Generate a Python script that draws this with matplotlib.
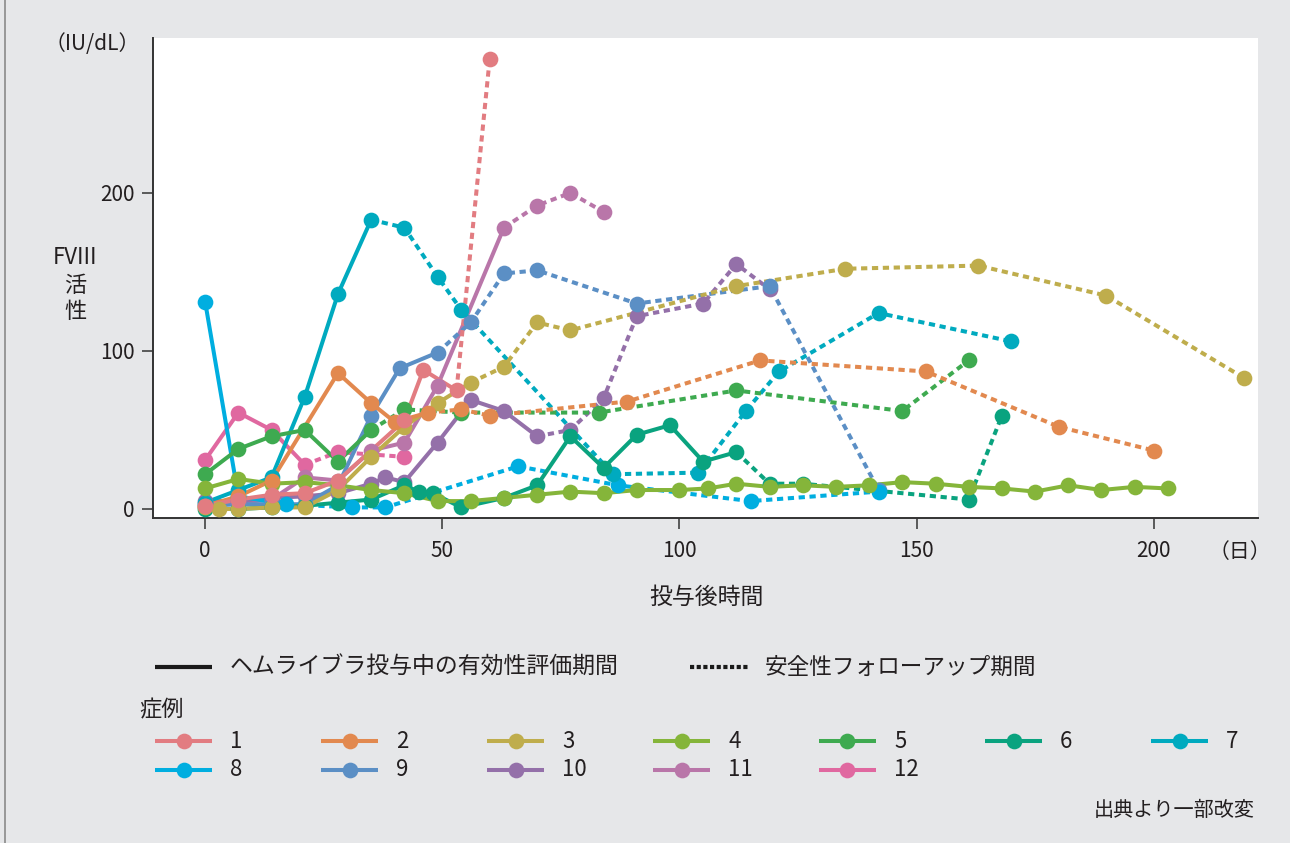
import matplotlib
matplotlib.use("Agg")
import matplotlib.pyplot as plt
from matplotlib.lines import Line2D

plt.rcParams["font.family"] = ["Noto Sans CJK JP", "DejaVu Sans"]

# FVIII activity (IU/dL) by day after first dose, per case.
# cN_end: last day of the efficacy period (solid); later points are follow-up (dashed).
c1_days = [0, 7, 14, 21, 28, 42, 46, 53, 60]
c1_vals = [2, 6, 9, 10, 18, 56, 88, 75, 285]
c1_end = 53

c2_days = [0, 7, 14, 28, 35, 40, 47, 54, 60, 89, 117, 152, 180, 200]
c2_vals = [2, 8, 18, 86, 67, 55, 61, 63, 59, 68, 94, 87, 52, 37]
c2_end = 47

c3_days = [0, 3, 7, 14, 21, 28, 35, 42, 49, 56, 63, 70, 77, 112, 135, 163, 190, 219]
c3_vals = [1, 0, 0, 1, 1, 12, 33, 52, 67, 80, 90, 118, 113, 141, 152, 154, 135, 83]
c3_end = 56

c4_days = [0, 7, 14, 21, 28, 35, 42, 49, 56, 63, 70, 77, 84, 91, 100, 106, 112, 119,
           126, 133, 140, 147, 154, 161, 168, 175, 182, 189, 196, 203]
c4_vals = [13, 19, 16, 17, 15, 12, 10, 5, 5, 7, 9, 11, 10, 12, 12, 13, 16, 14,
           15, 14, 15, 17, 16, 14, 13, 11, 15, 12, 14, 13]
c4_end = 203

c5_days = [0, 7, 14, 21, 28, 35, 42, 54, 83, 112, 147, 161]
c5_vals = [22, 38, 46, 50, 30, 50, 63, 61, 61, 75, 62, 94]
c5_end = 35

c6_days = [0, 7, 14, 21, 28, 35, 42, 45, 48, 54, 63, 70, 77, 84, 91, 98, 105, 112,
           119, 126, 161, 168]
c6_vals = [0, 0, 1, 2, 4, 6, 15, 11, 10, 1, 7, 15, 46, 26, 47, 53, 30, 36,
           16, 16, 6, 59]
c6_end = 112

c7_days = [0, 7, 14, 21, 28, 35, 42, 49, 54, 86, 104, 114, 121, 142, 170]
c7_vals = [4, 12, 20, 71, 136, 183, 178, 147, 126, 22, 23, 62, 87, 124, 106]
c7_end = 35

c8_days = [0, 7, 17, 31, 38, 66, 87, 115, 142]
c8_vals = [131, 8, 3, 1, 1, 27, 15, 5, 11]
c8_end = 17

c9_days = [0, 7, 14, 21, 28, 35, 41, 49, 56, 63, 70, 91, 119, 142]
c9_vals = [2, 3, 3, 3, 15, 59, 89, 99, 118, 149, 151, 130, 141, 12]
c9_end = 49

c10_days = [0, 7, 14, 21, 28, 35, 38, 42, 49, 56, 63, 70, 77, 84, 91, 105, 112, 119]
c10_vals = [5, 5, 7, 8, 10, 16, 20, 17, 42, 69, 62, 46, 50, 70, 122, 130, 155, 139]
c10_end = 70

c11_days = [0, 7, 14, 21, 28, 35, 42, 49, 63, 70, 77, 84]
c11_vals = [3, 4, 6, 20, 18, 37, 42, 78, 178, 192, 200, 188]
c11_end = 63

c12_days = [0, 7, 14, 21, 28, 42]
c12_vals = [31, 61, 50, 28, 36, 33]
c12_end = 21

case_labels = ["1", "2", "3", "4", "5", "6", "7", "8", "9", "10", "11", "12"]
case_colors = ["#e27c81", "#e2894f", "#bfad4c", "#85b53a", "#3eaa50", "#0aa37f",
               "#00aabf", "#00aee0", "#5b8fc5", "#9470a9", "#b976a9", "#e068a0"]

cases = [
    (c1_days, c1_vals, c1_end), (c2_days, c2_vals, c2_end), (c3_days, c3_vals, c3_end),
    (c4_days, c4_vals, c4_end), (c5_days, c5_vals, c5_end), (c6_days, c6_vals, c6_end),
    (c7_days, c7_vals, c7_end), (c8_days, c8_vals, c8_end), (c9_days, c9_vals, c9_end),
    (c10_days, c10_vals, c10_end), (c11_days, c11_vals, c11_end), (c12_days, c12_vals, c12_end),
]

x_ticks = [0, 50, 100, 150, 200]
y_ticks = [0, 100, 200]

BG = "#e6e7e9"
TXT = "#231f20"
W, H = 1290, 843
fig = plt.figure(figsize=(W / 100, H / 100), dpi=100, facecolor=BG)
ax = fig.add_axes([153 / W, 1 - 518 / H, (1258 - 153) / W, (518 - 38) / H])
ax.set_facecolor("white")

LW = 2.9
MS = 11.3
DASH = (1.55, 1.15)

order = list(range(11, -1, -1))
for z, i in enumerate(order):
    d, v, end = cases[i]
    col = case_colors[i]
    k = d.index(end)
    ax.plot(d[:k + 1], v[:k + 1], color=col, lw=LW, solid_capstyle="butt",
            zorder=2 + z * 0.01)
    if k < len(d) - 1:
        ax.plot(d[k:], v[k:], color=col, lw=LW, linestyle=(0, DASH),
                dash_capstyle="butt", zorder=2 + z * 0.01)
    ax.plot(d, v, linestyle="none", marker="o", ms=MS, color=col,
            markeredgewidth=0, zorder=3 + z * 0.01)

ax.set_xlim(-11, 222)
ax.set_ylim(-5.7, 298)
ax.set_xticks(x_ticks)
ax.set_yticks(y_ticks)
for s in ["top", "right"]:
    ax.spines[s].set_visible(False)
for s in ["left", "bottom"]:
    ax.spines[s].set_color("#333333")
    ax.spines[s].set_linewidth(1.4)
ax.tick_params(direction="out", length=8, width=1.1, color="#333333",
               labelsize=15, labelcolor=TXT)
ax.tick_params(axis="x", pad=8)
ax.tick_params(axis="y", pad=5)


def fx(px):
    return px / W


def fy(py):
    return 1 - py / H


fig.text(fx(1240), fy(552), "（日）", ha="center", va="center", fontsize=15, color=TXT)
fig.text(fx(706), fy(597), "投与後時間", ha="center", va="center", fontsize=16.5, color=TXT)
fig.text(fx(92), fy(44), "（IU/dL）", ha="center", va="center", fontsize=15, color=TXT)
fig.text(fx(75), fy(258), "FVIII", ha="center", va="center", fontsize=16, color=TXT)
fig.text(fx(75), fy(285), "活", ha="center", va="center", fontsize=16, color=TXT)
fig.text(fx(75), fy(311), "性", ha="center", va="center", fontsize=16, color=TXT)

# line-style key
fig.add_artist(Line2D([fx(155), fx(212)], [fy(667), fy(667)], color="#1a1a1a", lw=3,
                      solid_capstyle="butt", transform=fig.transFigure))
fig.text(fx(230), fy(667), "ヘムライブラ投与中の有効性評価期間", ha="left", va="center",
         fontsize=16.5, color=TXT)
fig.add_artist(Line2D([fx(690), fx(748)], [fy(667), fy(667)], color="#1a1a1a", lw=3,
                      linestyle=(0, (1.0, 0.6)), dash_capstyle="butt",
                      transform=fig.transFigure))
fig.text(fx(765), fy(667), "安全性フォローアップ期間", ha="left", va="center",
         fontsize=16.3, color=TXT)

# case key
fig.text(fx(139), fy(710), "症例", ha="left", va="center", fontsize=16, color=TXT)
col_x = [155 + 166 * j for j in range(7)]
row_y = [741, 770]
for i, lab in enumerate(case_labels):
    r, c = divmod(i, 7)
    x0, y0 = col_x[c], row_y[r]
    fig.add_artist(Line2D([fx(x0), fx(x0 + 57)], [fy(y0), fy(y0)], color=case_colors[i],
                          lw=LW, solid_capstyle="butt", transform=fig.transFigure))
    fig.add_artist(Line2D([fx(x0 + 28.5)], [fy(y0)], color=case_colors[i], marker="o",
                          ms=MS, markeredgewidth=0, transform=fig.transFigure))
    fig.text(fx(x0 + 75), fy(y0), lab, ha="left", va="center", fontsize=16, color=TXT)

fig.text(fx(1255), fy(810), "出典より一部改変", ha="right", va="center", fontsize=14.5, color=TXT)

# left frame edge
fig.add_artist(Line2D([fx(4.5), fx(4.5)], [0, 1], color="#8a8a8a", lw=1.2,
                      transform=fig.transFigure))

fig.savefig("out.png", dpi=100, facecolor=BG)
